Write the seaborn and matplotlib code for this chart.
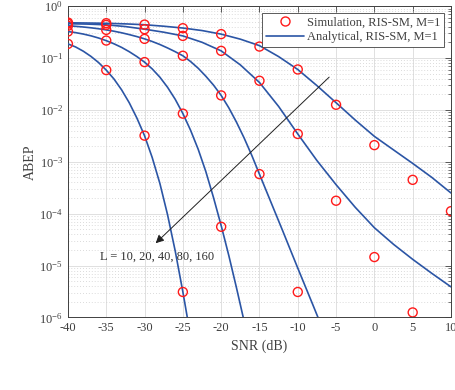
import numpy as np
import pandas as pd
import seaborn as sns
import matplotlib.pyplot as plt
from matplotlib.lines import Line2D
from matplotlib.ticker import LogLocator, NullFormatter, FixedLocator

# analytical curves
L_values = [10, 20, 40, 80, 160]

snr_l10 = [-40, -37.5, -35, -32.5, -30, -27.5, -25, -22.5, -20, -17.5, -15, -12.5, -10, -7.5, -5, -2.5, 0, 2.5, 5, 7.5, 10]
abep_l10 = [0.480, 0.475, 0.469, 0.457, 0.440, 0.412, 0.380, 0.340, 0.290, 0.232, 0.174, 0.107, 0.0603, 0.0295,
            0.0138, 6.40e-3, 3.10e-3, 1.70e-3, 9.33e-4, 5.01e-4, 2.51e-4]

snr_l20 = [-40, -37.5, -35, -32.5, -30, -27.5, -25, -22.5, -20, -17.5, -15, -12.5, -10, -7.5, -5, -2.5, 0, 2.5, 5, 7.5, 10]
abep_l20 = [0.460, 0.453, 0.438, 0.406, 0.361, 0.316, 0.268, 0.202, 0.138, 0.0741, 0.0339, 0.0117, 3.45e-3, 1.06e-3,
            3.63e-4, 1.33e-4, 5.37e-5, 2.57e-5, 1.32e-5, 7.08e-6, 3.89e-6]

snr_l40 = [-40, -39, -38, -37, -36, -35, -34, -33, -32, -31, -30, -29, -28, -27, -26, -25, -24, -23, -22, -21,
           -20, -19, -18, -17, -16, -15, -14, -13, -12, -11, -10, -9, -8, -7]
abep_l40 = [0.420, 0.410, 0.398, 0.384, 0.368, 0.350, 0.330, 0.308, 0.284, 0.260, 0.235, 0.209, 0.183, 0.157,
            0.133, 0.111, 0.0861, 0.0638, 0.0447, 0.0302, 0.0191, 0.0110, 5.82e-3, 2.88e-3, 1.33e-3, 5.78e-4,
            2.52e-4, 1.10e-4, 4.81e-5, 2.07e-5, 8.95e-6, 3.91e-6, 1.71e-6, 7.4e-7]

snr_l80 = [-40, -39, -38, -37, -36, -35, -34, -33, -32, -31, -30, -29, -28, -27, -26, -25, -24, -23, -22, -21,
           -20, -19, -18, -17, -16.5]
abep_l80 = [0.325, 0.310, 0.291, 0.269, 0.244, 0.217, 0.189, 0.161, 0.133, 0.107, 0.0836, 0.0619, 0.0429, 0.0274,
            0.0161, 8.55e-3, 4.09e-3, 1.75e-3, 6.49e-4, 2.05e-4, 5.92e-5, 1.56e-5, 3.73e-6, 8.4e-7, 4.0e-7]

snr_l160 = [-40, -39, -38, -37, -36, -35, -34, -33, -32, -31, -30, -29, -28, -27, -26, -25, -24]
abep_l160 = [0.188, 0.164, 0.136, 0.108, 0.0820, 0.0587, 0.0397, 0.0245, 0.0138, 6.98e-3, 3.19e-3, 1.21e-3,
             3.84e-4, 9.6e-5, 1.92e-5, 3.12e-6, 4.4e-7]

# simulation points
sim_snr_l10 = [-40, -35, -30, -25, -20, -15, -10, -5, 0, 5, 10]
sim_l10 = [0.485, 0.471, 0.443, 0.377, 0.29, 0.167, 0.0604, 0.0126, 2.1e-3, 4.5e-4, 1.12e-4]
sim_snr_l20 = [-40, -35, -30, -25, -20, -15, -10, -5, 0, 5]
sim_l20 = [0.46, 0.437, 0.361, 0.268, 0.138, 0.0366, 3.45e-3, 1.78e-4, 1.46e-5, 1.25e-6]
sim_snr_l40 = [-40, -35, -30, -25, -20, -15, -10]
sim_l40 = [0.42, 0.35, 0.235, 0.111, 0.0191, 5.8e-4, 3.1e-6]
sim_snr_l80 = [-40, -35, -30, -25, -20]
sim_l80 = [0.325, 0.218, 0.0838, 8.5e-3, 5.6e-5]
sim_snr_l160 = [-40, -35, -30, -25]
sim_l160 = [0.188, 0.0588, 3.2e-3, 3.1e-6]

x_ticks = [-40, -35, -30, -25, -20, -15, -10, -5, 0, 5, 10]

ana = pd.concat([
    pd.DataFrame({"snr": s, "abep": a, "L": l})
    for s, a, l in zip([snr_l10, snr_l20, snr_l40, snr_l80, snr_l160],
                       [abep_l10, abep_l20, abep_l40, abep_l80, abep_l160], L_values)
])
sim = pd.concat([
    pd.DataFrame({"snr": s, "abep": a, "L": l})
    for s, a, l in zip([sim_snr_l10, sim_snr_l20, sim_snr_l40, sim_snr_l80, sim_snr_l160],
                       [sim_l10, sim_l20, sim_l40, sim_l80, sim_l160], L_values)
])

sns.set_theme(style="white")
plt.rcParams['font.family'] = ['Liberation Serif', 'DejaVu Serif']
plt.rcParams['mathtext.fontset'] = 'custom'
plt.rcParams['mathtext.rm'] = 'Liberation Serif'
plt.rcParams['mathtext.it'] = 'Liberation Serif:italic'
plt.rcParams['axes.unicode_minus'] = False

blue = '#2b55a5'
red = '#ff1a1a'
txt = '#404040'

fig = plt.figure(figsize=(4.56, 3.9), dpi=100)
ax = fig.add_axes([0.149, 0.186, 0.840, 0.798])

sns.lineplot(data=ana, x="snr", y="abep", hue="L", palette={l: blue for l in L_values},
             estimator=None, sort=True, lw=1.2, legend=False, ax=ax, zorder=3)
sns.scatterplot(data=sim, x="snr", y="abep", hue="L", palette={l: red for l in L_values},
                marker='o', s=42, linewidth=1.0, legend=False, ax=ax, zorder=4)
for c in ax.collections:
    c.set_facecolor('none')
    c.set_edgecolor(red)

ax.set_yscale('log')
ax.set_xlim(-40, 10)
ax.set_ylim(1e-6, 1)
ax.xaxis.set_major_locator(FixedLocator(x_ticks))
ax.yaxis.set_major_locator(LogLocator(base=10, numticks=10))
ax.yaxis.set_minor_locator(LogLocator(base=10, subs=np.arange(2, 10), numticks=10))
ax.yaxis.set_minor_formatter(NullFormatter())

ax.grid(True, which='major', color='#e0e0e0', lw=0.7)
ax.grid(True, which='minor', axis='y', color='#cfcfcf', lw=0.6, linestyle=(0, (1, 2.5)))
ax.set_axisbelow(True)

ax.tick_params(which='both', direction='in', top=True, right=True, colors=txt, labelsize=9)
ax.tick_params(which='major', length=4, width=0.6)
ax.tick_params(which='minor', length=2, width=0.5)
for sp in ax.spines.values():
    sp.set_color(txt)
    sp.set_linewidth(0.7)

ax.set_xlabel("SNR (dB)", fontsize=10, color=txt, labelpad=4)
ax.set_ylabel("ABEP", fontsize=10, color=txt, labelpad=2)

ax.annotate("", xy=(-28.55, 2.7e-5), xytext=(-5.9, 0.043),
            arrowprops=dict(arrowstyle='-|>', color='#202020', lw=0.7, mutation_scale=12,
                            shrinkA=0, shrinkB=0), zorder=5)
ax.text(-35.85, 1.5e-5, "L = 10, 20, 40, 80, 160", fontsize=9, color='#303030', va='center', ha='left', zorder=5)

handles = [Line2D([], [], ls='none', marker='o', mfc='none', mec=red, ms=6.5, mew=1.0),
           Line2D([], [], color=blue, lw=1.2)]
leg = ax.legend(handles, ["Simulation, RIS-SM, M=1", "Analytical, RIS-SM, M=1"],
                loc='upper right', bbox_to_anchor=(0.983, 0.978), fontsize=9, frameon=True,
                fancybox=False, edgecolor=txt, framealpha=1, handlelength=3.0, handletextpad=0.3,
                borderpad=0.3, labelspacing=0.2, borderaxespad=0)
leg.get_frame().set_linewidth(0.6)
for t in leg.get_texts():
    t.set_color(txt)

fig.savefig("out.png", dpi=100)
